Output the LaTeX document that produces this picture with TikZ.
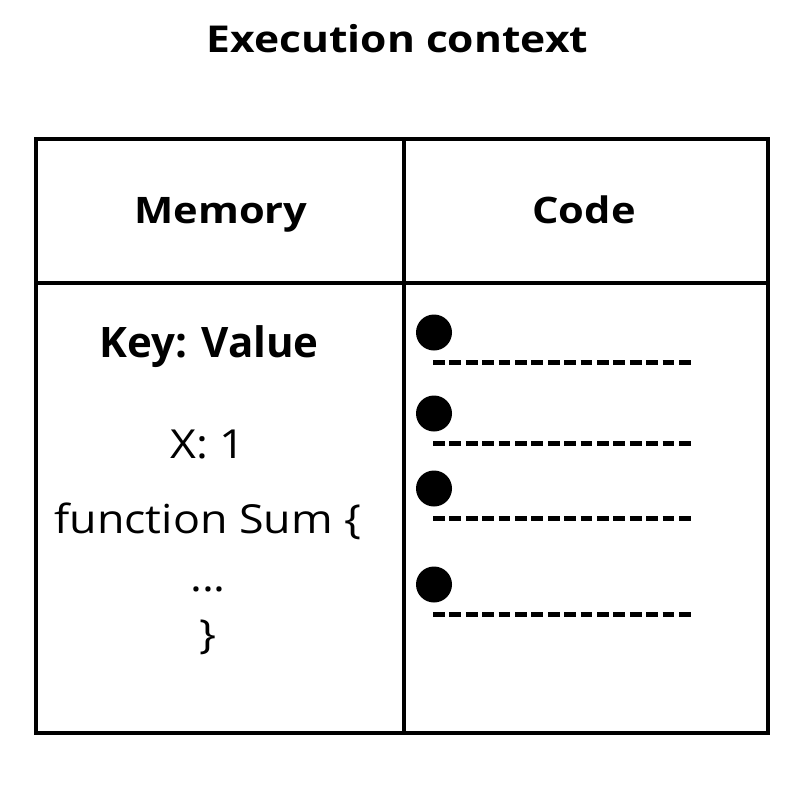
\documentclass[tikz,border=0pt]{standalone}
\usepackage{fontspec}
\setmainfont{Open Sans}
\newfontfamily\titlefont[FakeStretch=1.15]{Open Sans}
\newfontfamily\headfont[FakeStretch=1.14]{Open Sans}
\newfontfamily\entryfont[FakeStretch=1.12]{Open Sans}
\begin{document}
\begin{tikzpicture}[x=1pt,y=-1pt,
  frame/.style={line width=3.5pt},
  bigtitle/.style={anchor=base,inner sep=0pt,font=\titlefont\fontsize{37}{40}\selectfont\bfseries},
  head/.style={anchor=base,inner sep=0pt,font=\headfont\fontsize{36.5}{40}\selectfont\bfseries},
  keyval/.style={anchor=base,inner sep=0pt,font=\fontsize{42}{46}\selectfont\bfseries},
  entry/.style={anchor=base,inner sep=0pt,font=\entryfont\fontsize{40}{44}\selectfont},
  bullet/.style={circle,fill=black,inner sep=0pt,minimum size=36pt},
  dashline/.style={line width=5pt,dash pattern=on 11.8pt off 4.6pt}]
\useasboundingbox (0,0) rectangle (800,807);
\fill[white] (0,0) rectangle (800,807);
\node[bigtitle] (title) at (397.5,52) {Execution context};
\coordinate (tl) at (36,139);
\coordinate (br) at (768,733);
\draw[frame] (tl) rectangle (br);
\coordinate (vt) at (404,139);
\coordinate (vb) at (404,733);
\draw[frame] (vt) -- (vb);
\coordinate (hl) at (36,283);
\coordinate (hr) at (768,283);
\draw[frame] (hl) -- (hr);
\node[head] (mem) at (221,223) {Memory};
\node[head] (code) at (584,223) {Code};
\node[keyval] (kv) at (209,357) {Key: Value};
\node[entry] (x1) at (208,458) {X: 1};
\node[entry] (fn) at (208,533) {function Sum \{};
\node[entry] (dots) at (208,591) {...};
\node[entry] (cl) at (208,648) {\}};
\foreach \i/\by/\ly in {1/332.5/362, 2/413.5/443, 3/488.5/518, 4/584.5/614}{
  \node[bullet] (b\i) at (434,\by) {};
  \coordinate (ds\i) at (433,\ly);
  \coordinate (de\i) at (691,\ly);
  \draw[dashline] (ds\i) -- (de\i);
}
\end{tikzpicture}
\end{document}
